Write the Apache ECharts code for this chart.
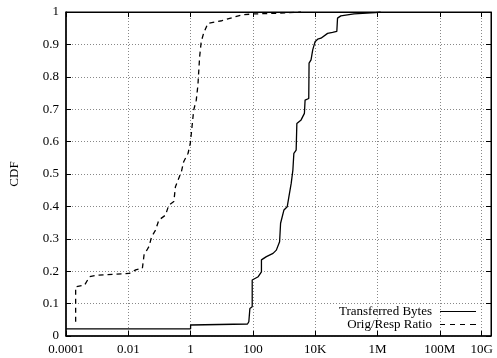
<!DOCTYPE html>
<html>
<head>
<meta charset="utf-8">
<script src="https://cdn.jsdelivr.net/npm/echarts@6/dist/echarts.min.js"></script>
<style>html,body{margin:0;padding:0;background:#fff}#c{width:497px;height:358px}</style>
</head>
<body>
<div id="c"></div>
<script>
// Tick positions and labels (x, log scale)
var xMin = 1e-4, xMax = 4.4e9;
var xTickValues = [1e-4, 1e-2, 1, 1e2, 1e4, 1e6, 1e8, 2.2e9];
var xTickLabels = ['0.0001', '0.01', '1', '100', '10K', '1M', '100M', '10G'];
var yTickLabels = ['0', '0.1', '0.2', '0.3', '0.4', '0.5', '0.6', '0.7', '0.8', '0.9', '1'];

// Transferred Bytes CDF
var bytesX = [1e-4, 1, 1, 67, 74, 80, 95, 95, 148, 188, 188, 271, 443, 565, 719, 774, 993, 1265, 1433, 1695, 1920, 2065, 2447, 2576, 3530, 4500, 4735, 6210, 6350, 7350, 8320, 9360, 9860, 12000, 15300, 25000, 36000, 49400, 52100, 66400, 176000, 863000, 1.26e6];
var bytesY = [0.022, 0.022, 0.034, 0.037, 0.044, 0.085, 0.09, 0.173, 0.183, 0.198, 0.235, 0.245, 0.255, 0.265, 0.291, 0.348, 0.389, 0.399, 0.43, 0.471, 0.512, 0.564, 0.574, 0.656, 0.667, 0.687, 0.728, 0.733, 0.842, 0.852, 0.883, 0.888, 0.908, 0.916, 0.919, 0.934, 0.937, 0.94, 0.981, 0.988, 0.994, 0.998, 1.0];

// Orig/Resp Ratio CDF
var ratioX = [2.04e-4, 2.04e-4, 3.94e-4, 5.7e-4, 1.04e-3, 0.0107, 0.0173, 0.0283, 0.032, 0.046, 0.056, 0.075, 0.096, 0.156, 0.20, 0.29, 0.326, 0.506, 0.60, 0.83, 0.98, 1.11, 1.26, 1.52, 1.72, 1.81, 1.95, 2.19, 2.61, 3.58, 10, 43, 102, 640, 3500];
var ratioY = [0.044, 0.152, 0.157, 0.183, 0.188, 0.193, 0.204, 0.209, 0.25, 0.276, 0.306, 0.327, 0.358, 0.373, 0.404, 0.415, 0.461, 0.507, 0.538, 0.564, 0.595, 0.646, 0.698, 0.728, 0.775, 0.811, 0.862, 0.908, 0.934, 0.965, 0.973, 0.991, 0.994, 0.996, 1.0];

function zip(a, b) { return a.map(function (v, i) { return [v, b[i]]; }); }
function xFmt(v) {
  var lv = Math.log10(v), best = -1, bd = 1e9;
  for (var i = 0; i < xTickValues.length; i++) {
    var d = Math.abs(Math.log10(xTickValues[i]) - lv);
    if (d < bd) { bd = d; best = i; }
  }
  return bd < 0.05 ? xTickLabels[best] : '';
}
var font = 'Liberation Serif';
var fs = 13;
var chart = echarts.init(document.getElementById('c'), null, {renderer: 'canvas'});
var gridLine = {show: true, lineStyle: {color: '#888', width: 1, type: [1, 2]}};
var solidIcon = 'path://M0,0h36v1h-36z';
var dashIcon = 'path://M0,0h5v1h-5zM10,0h5v1h-5zM20,0h5v1h-5zM30,0h6v1h-6z';
chart.setOption({
  animation: false,
  backgroundColor: '#fff',
  grid: {left: 63, right: 6, top: 12, bottom: 22, show: true, borderColor: '#000', borderWidth: 1, containLabel: false},
  xAxis: [{
    type: 'log', logBase: 10, min: xMin, max: xMax,
    axisLine: {show: true, onZero: false, lineStyle: {color: '#000', width: 1.5}},
    axisTick: {show: true, inside: true, length: 5, customValues: xTickValues, lineStyle: {color: '#000'}},
    minorTick: {show: false},
    axisLabel: {customValues: xTickValues, formatter: xFmt, fontFamily: font, fontSize: fs, color: '#000', margin: 7},
    splitLine: gridLine
  }, {
    type: 'log', logBase: 10, min: xMin, max: xMax, position: 'top',
    axisLine: {show: true, onZero: false, lineStyle: {color: '#000', width: 1}},
    axisTick: {show: true, inside: true, length: 5, customValues: xTickValues, lineStyle: {color: '#000'}},
    axisLabel: {show: false}, splitLine: {show: false}
  }],
  yAxis: [{
    type: 'value', min: 0, max: 1, interval: 0.1,
    name: 'CDF', nameLocation: 'middle', nameGap: 45,
    nameTextStyle: {fontFamily: font, fontSize: fs, color: '#000'},
    axisLine: {show: true, onZero: false, lineStyle: {color: '#000', width: 1.5}},
    axisTick: {show: true, inside: true, length: 5, lineStyle: {color: '#000'}},
    axisLabel: {fontFamily: font, fontSize: fs, color: '#000', margin: 7,
      formatter: function (v) { return yTickLabels[Math.round(v * 10)]; }},
    splitLine: gridLine
  }, {
    type: 'value', min: 0, max: 1, interval: 0.1, position: 'right',
    axisLine: {show: true, onZero: false, lineStyle: {color: '#000', width: 1}},
    axisTick: {show: true, inside: true, length: 5, lineStyle: {color: '#000'}},
    axisLabel: {show: false}, splitLine: {show: false}
  }],
  legend: {
    orient: 'vertical', right: 21, top: 305, align: 'right', padding: 0,
    itemWidth: 36, itemHeight: 1.3, itemGap: 0,
    textStyle: {fontFamily: font, fontSize: fs, color: '#000', lineHeight: 13, padding: [0, 3, 0, 0]},
    itemStyle: {color: '#000'},
    data: [{name: 'Transferred Bytes', icon: solidIcon}, {name: 'Orig/Resp Ratio', icon: dashIcon}]
  },
  series: [{
    name: 'Transferred Bytes', type: 'line', symbol: 'none', showSymbol: false,
    data: zip(bytesX, bytesY),
    lineStyle: {color: '#000', width: 1.3, type: 'solid'}, itemStyle: {color: '#000'}
  }, {
    name: 'Orig/Resp Ratio', type: 'line', symbol: 'none', showSymbol: false,
    data: zip(ratioX, ratioY),
    lineStyle: {color: '#000', width: 1.3, type: [5, 4]}, itemStyle: {color: '#000'}
  }]
});
</script>
</body>
</html>
